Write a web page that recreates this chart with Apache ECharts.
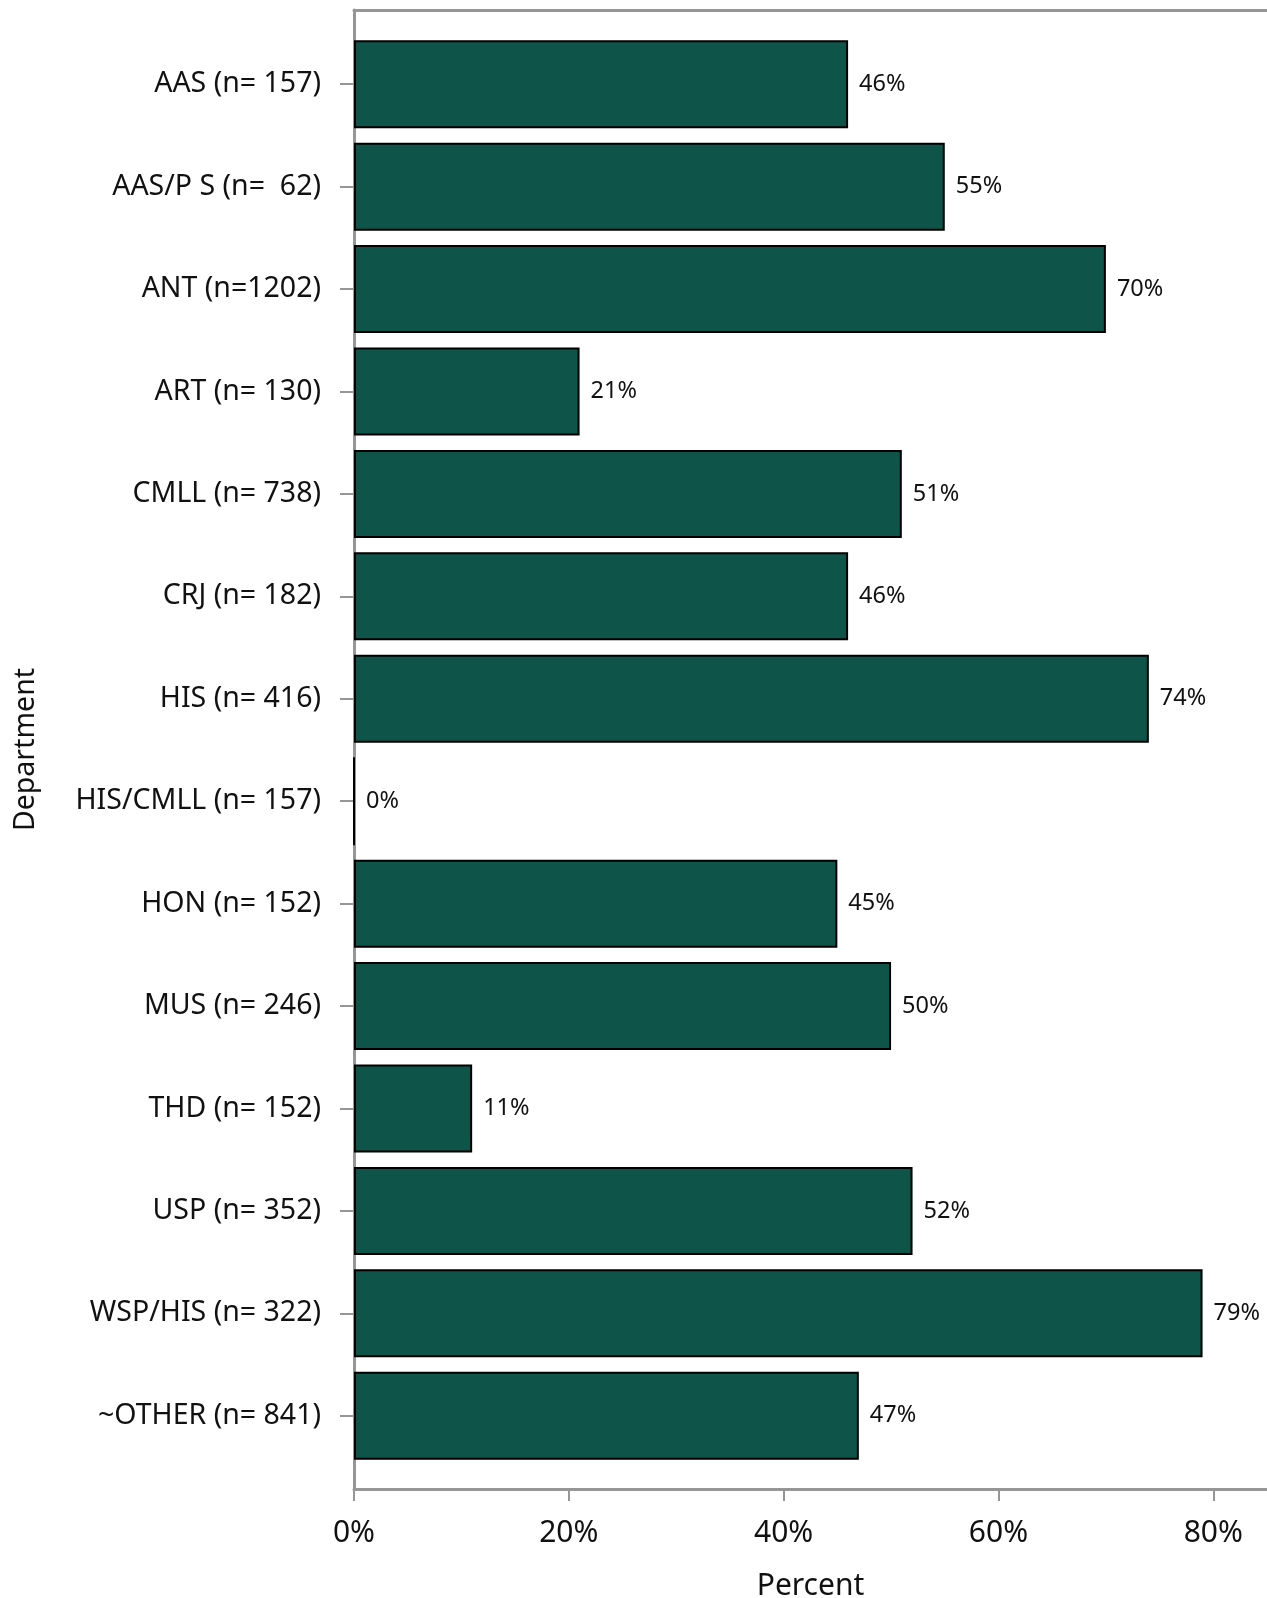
<!DOCTYPE html>
<html>
<head>
<meta charset="utf-8">
<script src="https://cdn.jsdelivr.net/npm/echarts@6/dist/echarts.min.js"></script>
<style>
  html, body { margin: 0; padding: 0; background: #fff; }
  #chart { width: 1267px; height: 1598px; }
</style>
</head>
<body>
<div id="chart"></div>
<script>
// departments (top to bottom) and percent values
var departments = ['AAS (n= 157)', 'AAS/P S (n=  62)', 'ANT (n=1202)', 'ART (n= 130)', 'CMLL (n= 738)',
  'CRJ (n= 182)', 'HIS (n= 416)', 'HIS/CMLL (n= 157)', 'HON (n= 152)', 'MUS (n= 246)',
  'THD (n= 152)', 'USP (n= 352)', 'WSP/HIS (n= 322)', '~OTHER (n= 841)'];
var percents = [46, 55, 70, 21, 51, 46, 74, 0, 45, 50, 11, 52, 79, 47];
var xTicks = [0, 20, 40, 60, 80];

var font = '"Noto Sans", "Open Sans", sans-serif';
var axisGray = '#969696';

var chartDom = document.getElementById('chart');
var myChart = echarts.init(chartDom);

var option = {
  animation: false,
  grid: [
    // frame grid (axis lines, x ticks)
    { left: 354, right: 0, top: 10, bottom: 109, outerBoundsMode: 'none' },
    // bars grid (inset so bands leave some room at both ends)
    { left: 354, right: 0, top: 33, bottom: 131, outerBoundsMode: 'none' }
  ],
  xAxis: [
    {
      gridIndex: 0, type: 'value', min: 0, max: 85, interval: 20,
      name: 'Percent', nameLocation: 'middle', nameGap: 82,
      nameTextStyle: { fontFamily: font, fontSize: 30, color: '#111' },
      axisLine: { show: true, lineStyle: { color: axisGray, width: 3 } },
      axisTick: { show: true, length: 12, lineStyle: { color: axisGray, width: 2 },
        customValues: xTicks },
      axisLabel: { fontFamily: font, fontSize: 30, color: '#111', margin: 29,
        formatter: '{value}%', customValues: xTicks },
      splitLine: { show: false }
    },
    {
      gridIndex: 0, type: 'value', position: 'top', min: 0, max: 85,
      axisLine: { show: true, lineStyle: { color: axisGray, width: 3 } },
      axisTick: { show: false }, axisLabel: { show: false }, splitLine: { show: false }
    },
    {
      gridIndex: 1, type: 'value', min: 0, max: 85, show: false
    }
  ],
  yAxis: [
    {
      gridIndex: 0, type: 'value', min: 0, max: 1,
      name: 'Department', nameLocation: 'middle', nameGap: 314, nameRotate: 90,
      nameTextStyle: { fontFamily: font, fontSize: 28.5, color: '#111' },
      axisLine: { show: true, lineStyle: { color: axisGray, width: 3 } },
      axisTick: { show: false }, axisLabel: { show: false }, splitLine: { show: false }
    },
    {
      gridIndex: 1, type: 'category', data: departments, inverse: true,
      axisLine: { show: false },
      axisTick: { show: true, alignWithLabel: true, length: 14, lineStyle: { color: axisGray, width: 2 } },
      axisLabel: { fontFamily: font, fontSize: 28.5, color: '#111', margin: 33 }
    }
  ],
  series: [{
    type: 'bar',
    xAxisIndex: 2,
    yAxisIndex: 1,
    data: percents,
    barWidth: 88,
    itemStyle: { color: '#0f5449', borderColor: '#000', borderWidth: 2 },
    label: {
      show: true, position: 'right', distance: 11,
      fontFamily: font, fontSize: 23.5, color: '#111',
      formatter: '{c}%'
    }
  }]
};

myChart.setOption(option);
</script>
</body>
</html>
